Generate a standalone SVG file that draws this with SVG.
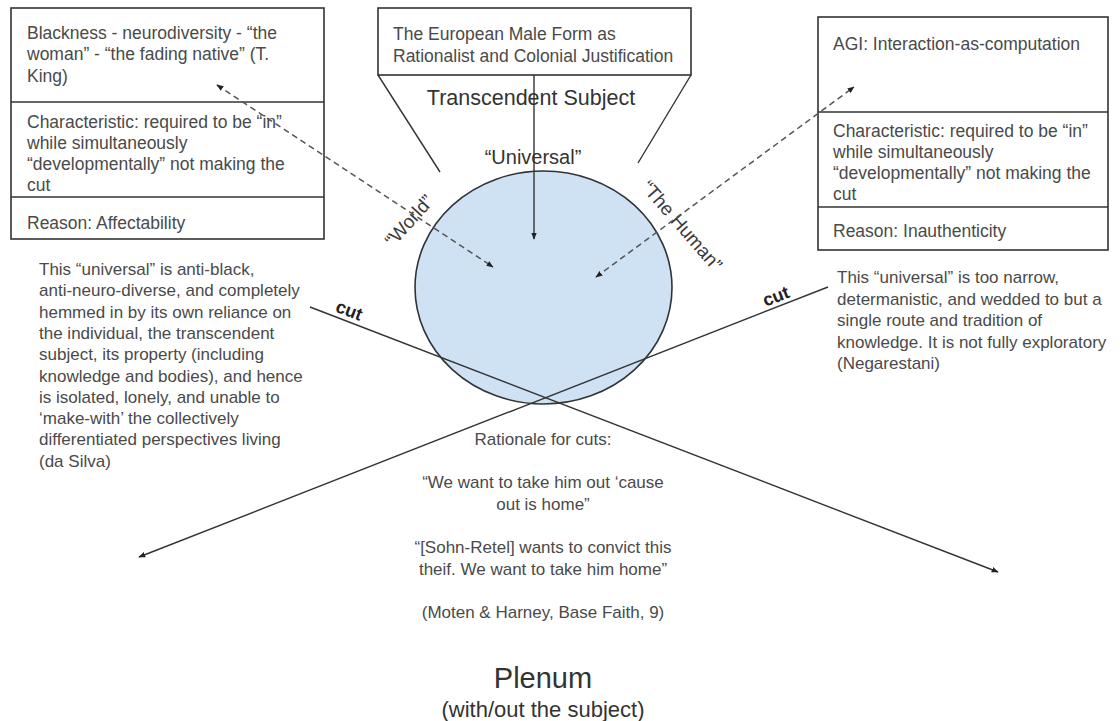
<svg xmlns="http://www.w3.org/2000/svg" width="1120" height="721" viewBox="0 0 1120 721">
<style>
.box{fill:#fff;stroke:#333;stroke-width:1.6}
.div{stroke:#333;stroke-width:1.6}
.t{font-family:"Liberation Sans",Arial,sans-serif;font-size:17px;fill:#4a4a4a}
.bt{font-size:17.5px}
.rot{font-size:19px;fill:#3a3a3a}
.big{font-family:"Liberation Sans",Arial,sans-serif;fill:#333}
.ln{stroke:#333;stroke-width:1.4;fill:none}
.dash{stroke:#555;stroke-width:1.5;fill:none;stroke-dasharray:6 4}
.cut{font-family:"Liberation Sans",Arial,sans-serif;font-size:18px;font-weight:bold;fill:#222}
</style>
<defs>
<marker id="ah" viewBox="0 0 10 10" refX="9" refY="5" markerWidth="7" markerHeight="7" orient="auto-start-reverse" markerUnits="userSpaceOnUse">
<path d="M0,1 L10,5 L0,9 z" fill="#222"/>
</marker>
</defs>
<rect width="1120" height="721" fill="#fff"/>

<g id="subject-sphere">
<ellipse cx="543.5" cy="287.5" rx="128.5" ry="116.5" fill="#cfe2f3" stroke="#333" stroke-width="1.6"/>
</g>

<g id="left-box">
<rect class="box" x="11" y="8" width="313" height="231"/>
<line class="div" x1="11" y1="102" x2="324" y2="102"/>
<line class="div" x1="11" y1="197" x2="324" y2="197"/>
<text class="t bt" x="27" y="39">Blackness - neurodiversity - “the</text>
<text class="t bt" x="27" y="60">woman” - “the fading native” (T.</text>
<text class="t bt" x="27" y="82">King)</text>
<text class="t bt" x="27" y="128">Characteristic: required to be “in”</text>
<text class="t bt" x="27" y="149">while simultaneously</text>
<text class="t bt" x="27" y="170">“developmentally” not making the</text>
<text class="t bt" x="27" y="191">cut</text>
<text class="t bt" x="27" y="229">Reason: Affectability</text>
</g>

<g id="center-box">
<rect class="box" x="378" y="8" width="313" height="67"/>
<text class="t bt" x="393" y="40">The European Male Form as</text>
<text class="t bt" x="393" y="62">Rationalist and Colonial Justification</text>
</g>

<g id="right-box">
<rect class="box" x="818" y="17" width="290" height="233"/>
<line class="div" x1="818" y1="112" x2="1108" y2="112"/>
<line class="div" x1="818" y1="207" x2="1108" y2="207"/>
<text class="t bt" x="833" y="50">AGI: Interaction-as-computation</text>
<text class="t bt" x="833" y="137">Characteristic: required to be “in”</text>
<text class="t bt" x="833" y="158">while simultaneously</text>
<text class="t bt" x="833" y="179">“developmentally” not making the</text>
<text class="t bt" x="833" y="200">cut</text>
<text class="t bt" x="833" y="237">Reason: Inauthenticity</text>
</g>

<g id="labels">
<text class="big" x="531" y="105" font-size="21.5" text-anchor="middle">Transcendent Subject</text>
<text class="big" x="533" y="164" font-size="20" text-anchor="middle">“Universal”</text>
<text class="t rot" transform="translate(414,225) rotate(-48)" text-anchor="middle">“World”</text>
<text class="t rot" transform="translate(677,230) rotate(49)" text-anchor="middle">“The Human”</text>
<text class="cut" transform="translate(347,316) rotate(21)" text-anchor="middle">cut</text>
<text class="cut" transform="translate(778,302) rotate(-21)" text-anchor="middle">cut</text>
</g>

<g id="left-text">
<text class="t" x="39" y="275">This “universal” is anti-black,</text>
<text class="t" x="39" y="296.3">anti-neuro-diverse, and completely</text>
<text class="t" x="39" y="317.6">hemmed in by its own reliance on</text>
<text class="t" x="39" y="338.9">the individual, the transcendent</text>
<text class="t" x="39" y="360.2">subject, its property (including</text>
<text class="t" x="39" y="381.5">knowledge and bodies), and hence</text>
<text class="t" x="39" y="402.8">is isolated, lonely, and unable to</text>
<text class="t" x="39" y="424.1">‘make-with’ the collectively</text>
<text class="t" x="39" y="445.4">differentiated perspectives living</text>
<text class="t" x="39" y="466.7">(da Silva)</text>
</g>

<g id="right-text">
<text class="t" x="837" y="283">This “universal” is too narrow,</text>
<text class="t" x="837" y="304.5">determanistic, and wedded to but a</text>
<text class="t" x="837" y="326">single route and tradition of</text>
<text class="t" x="837" y="347.5">knowledge. It is not fully exploratory</text>
<text class="t" x="837" y="369">(Negarestani)</text>
</g>

<g id="rationale">
<text class="t" x="543" y="445" text-anchor="middle">Rationale for cuts:</text>
<text class="t" x="543" y="488" text-anchor="middle">“We want to take him out ‘cause</text>
<text class="t" x="543" y="510" text-anchor="middle">out is home”</text>
<text class="t" x="543" y="553" text-anchor="middle">“[Sohn-Retel] wants to convict this</text>
<text class="t" x="543" y="575" text-anchor="middle">theif. We want to take him home”</text>
<text class="t" x="543" y="618" text-anchor="middle">(Moten &amp; Harney, Base Faith, 9)</text>
</g>

<g id="plenum">
<text class="big" x="543" y="688" font-size="29" fill="#222" text-anchor="middle">Plenum</text>
<text class="big" x="543" y="717" font-size="22" fill="#222" text-anchor="middle">(with/out the subject)</text>
</g>

<g id="connectors">
<line class="ln" x1="378" y1="75" x2="440" y2="172"/>
<line class="ln" x1="691" y1="75" x2="638" y2="163"/>
<line class="ln" x1="534" y1="75" x2="534" y2="239" marker-end="url(#ah)"/>
<line class="dash" x1="217" y1="85" x2="493" y2="267" marker-start="url(#ah)" marker-end="url(#ah)"/>
<line class="dash" x1="596" y1="277" x2="854" y2="87" marker-start="url(#ah)" marker-end="url(#ah)"/>
<line class="ln" x1="310" y1="307" x2="998" y2="572" marker-end="url(#ah)"/>
<line class="ln" x1="828" y1="287" x2="139" y2="557" marker-end="url(#ah)"/>
</g>
</svg>
